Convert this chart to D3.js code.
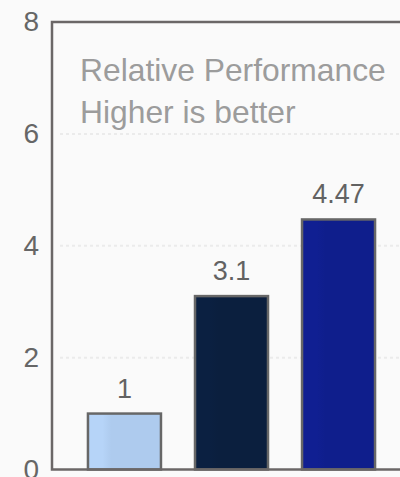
<!DOCTYPE html>
<html>
<head>
<meta charset="utf-8">
<script src="https://cdn.jsdelivr.net/npm/d3@7"></script>
<style>
  html, body { margin: 0; padding: 0; background: #fafafa; }
  svg { display: block; }
</style>
</head>
<body>
<svg id="chart" width="400" height="477"></svg>
<script>
// Relative performance of three configurations
const categories = ["A", "B", "C"];
const values = [1, 3.1, 4.47];
const valueLabels = ["1", "3.1", "4.47"];
const barColors = ["#aecbee", "#0b1f3e", "#0f1e8c"];
const yTicks = [0, 2, 4, 6, 8];
const titleLines = ["Relative Performance", "Higher is better"];

const svg = d3.select("#chart");
const W = 400, H = 477;
const plot = { left: 52, right: 411, top: 22, bottom: 469.5 };

const x = d3.scaleBand()
  .domain(categories)
  .range([plot.left, plot.right])
  .paddingInner(0.318)
  .paddingOuter(0.336);

const y = d3.scaleLinear()
  .domain([0, 8])
  .range([plot.bottom, plot.top]);

// faint left-side highlight on the bars
const defs = svg.append("defs");
barColors.forEach((c, i) => {
  const g = defs.append("linearGradient").attr("id", "bg" + i)
    .attr("x1", "0").attr("x2", "1").attr("y1", "0").attr("y2", "0");
  const hi = d3.color(c).brighter(0.12);
  g.append("stop").attr("offset", "0").attr("stop-color", hi);
  g.append("stop").attr("offset", "0.2").attr("stop-color", hi);
  g.append("stop").attr("offset", "0.32").attr("stop-color", c);
  g.append("stop").attr("offset", "1").attr("stop-color", c);
});

// gridlines
svg.append("g")
  .selectAll("line")
  .data(yTicks.filter(t => t > 0 && t < 8))
  .join("line")
  .attr("x1", plot.left + 8)
  .attr("x2", W)
  .attr("y1", d => y(d))
  .attr("y2", d => y(d))
  .attr("stroke", "#ebebeb")
  .attr("stroke-width", 2)
  .attr("stroke-dasharray", "3,3");

// y axis labels
const yAxis = d3.axisLeft(y).tickValues(yTicks).tickSize(0).tickPadding(13).tickFormat(d3.format("d"));
const ya = svg.append("g")
  .attr("transform", `translate(${plot.left},0)`)
  .call(yAxis);
ya.select(".domain").remove();
ya.selectAll("text")
  .attr("font-family", "'Liberation Sans', Arial, sans-serif")
  .attr("font-size", 28)
  .attr("fill", "#666");

// title
svg.append("g")
  .selectAll("text")
  .data(titleLines)
  .join("text")
  .attr("x", 80)
  .attr("y", (d, i) => 81 + i * 42)
  .attr("font-family", "'Liberation Sans', Arial, sans-serif")
  .attr("font-size", 31.8)
  .attr("fill", "#9c9c9c")
  .text(d => d);

// bars
svg.append("g")
  .selectAll("rect")
  .data(values)
  .join("rect")
  .attr("x", (d, i) => x(categories[i]))
  .attr("y", d => y(d))
  .attr("width", x.bandwidth())
  .attr("height", d => y(0) - y(d))
  .attr("fill", (d, i) => `url(#bg${i})`)
  .attr("stroke", "#676767")
  .attr("stroke-width", 2.5);

// value labels
svg.append("g")
  .selectAll("text")
  .data(values)
  .join("text")
  .attr("x", (d, i) => x(categories[i]) + x.bandwidth() / 2)
  .attr("y", d => y(d) - 16)
  .attr("text-anchor", "middle")
  .attr("font-family", "'Liberation Sans', Arial, sans-serif")
  .attr("font-size", 27)
  .attr("fill", "#626262")
  .text((d, i) => valueLabels[i]);

// plot frame
svg.append("rect")
  .attr("x", plot.left)
  .attr("y", plot.top)
  .attr("width", plot.right - plot.left)
  .attr("height", plot.bottom - plot.top)
  .attr("fill", "none")
  .attr("stroke", "#6b6767")
  .attr("stroke-width", 2.5);
</script>
</body>
</html>
